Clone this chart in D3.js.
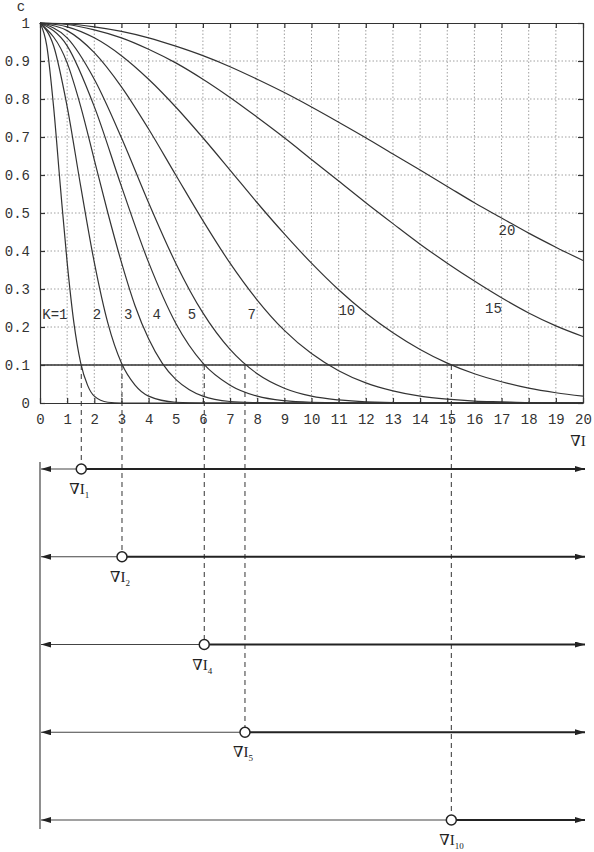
<!DOCTYPE html>
<html>
<head>
<meta charset="utf-8">
<script src="https://cdn.jsdelivr.net/npm/d3@7"></script>
<style>
  body { margin: 0; background: #fff; }
  svg { display: block; }
  .tick-lab { font-family: "Liberation Mono", "DejaVu Sans Mono", monospace; font-size: 14px; fill: #333; }
  .serif { font-family: "Liberation Serif", "DejaVu Serif", serif; fill: #222; }
</style>
</head>
<body>
<svg id="chart" width="594" height="852"></svg>
<script>
// curves c(∇I) for each K as [∇I, c]
const curveK1 = [[0,1],[0.25,0.94],[0.5,0.78],[0.75,0.57],[1,0.37],[1.25,0.21],[1.5,0.105],[1.75,0.047],[2,0.018],[2.5,0.002],[3,0],[20,0]];
const curveK2 = [[0,1],[0.5,0.94],[1,0.78],[1.5,0.57],[2,0.37],[2.5,0.21],[3,0.105],[3.5,0.047],[4,0.018],[5,0.002],[6,0],[20,0]];
const curveK3 = [[0,1],[1,0.895],[1.5,0.78],[2,0.64],[2.5,0.50],[3,0.37],[3.5,0.256],[4,0.169],[4.5,0.105],[5,0.062],[5.5,0.035],[6,0.018],[7,0.004],[8,0.001],[9,0],[20,0]];
const curveK4 = [[0,1],[1,0.94],[2,0.78],[3,0.57],[4,0.37],[5,0.21],[6,0.105],[7,0.047],[8,0.018],[9,0.006],[10,0.002],[12,0],[20,0]];
const curveK5 = [[0,1],[1,0.961],[2,0.852],[3,0.698],[4,0.527],[5,0.368],[6,0.237],[7,0.141],[8,0.077],[9,0.039],[10,0.018],[11,0.008],[12,0.003],[14,0],[20,0]];
const curveK7 = [[0,1],[1,0.98],[2,0.922],[3,0.832],[4,0.721],[5,0.60],[6,0.48],[7,0.368],[8,0.271],[9,0.191],[10,0.13],[11,0.085],[12,0.053],[13,0.032],[14,0.018],[15,0.01],[16,0.005],[17,0.003],[18,0.001],[20,0]];
const curveK10 = [[0,1],[1,0.99],[2,0.961],[3,0.914],[4,0.852],[5,0.779],[6,0.698],[7,0.613],[8,0.527],[9,0.445],[10,0.368],[11,0.298],[12,0.237],[13,0.185],[14,0.141],[15,0.105],[16,0.077],[17,0.056],[18,0.039],[19,0.027],[20,0.018]];
const curveK15 = [[0,1],[1,0.996],[2,0.982],[3,0.961],[4,0.931],[5,0.895],[6,0.852],[7,0.804],[8,0.752],[9,0.698],[10,0.641],[11,0.584],[12,0.527],[13,0.472],[14,0.418],[15,0.368],[16,0.321],[17,0.277],[18,0.237],[19,0.203],[20,0.175]];
const curveK20 = [[0,1],[1,0.998],[2,0.99],[3,0.978],[4,0.961],[5,0.939],[6,0.914],[7,0.885],[8,0.852],[9,0.817],[10,0.779],[11,0.739],[12,0.698],[13,0.655],[14,0.613],[15,0.57],[16,0.527],[17,0.487],[18,0.447],[19,0.41],[20,0.375]];

// curve labels: text, position in data units
const curveLabels = [["K=1",0.55,0.235],["2",2.1,0.235],["3",3.25,0.235],["4",4.3,0.235],["5",5.6,0.235],["7",7.8,0.235],["10",11.3,0.245],["15",16.7,0.25],["20",17.2,0.455]];

const xTicks = d3.range(0, 21);
const yTicks = [0, 0.1, 0.2, 0.3, 0.4, 0.5, 0.6, 0.7, 0.8, 0.9, 1];
const threshold = 0.1;

// ∇I_K where each curve meets c = 0.1, one row per K in the lower panel
const rowKs = ["1", "2", "4", "5", "10"];
const rowGrad = [1.52, 3.02, 6.05, 7.55, 15.15];

const svg = d3.select("#chart");
const x = d3.scaleLinear().domain([0, 20]).range([40, 583]);
const y = d3.scaleLinear().domain([0, 1]).range([403, 23]);

const g = svg.append("g");

// dotted grid
g.append("g").selectAll("line").data(xTicks.slice(1, -1)).join("line")
  .attr("x1", d => x(d)).attr("x2", d => x(d)).attr("y1", y(1)).attr("y2", y(0))
  .attr("stroke", "#888").attr("stroke-width", 0.8).attr("stroke-dasharray", "1.5,2");
g.append("g").selectAll("line").data(yTicks.slice(1, -1)).join("line")
  .attr("x1", x(0)).attr("x2", x(20)).attr("y1", d => y(d)).attr("y2", d => y(d))
  .attr("stroke", "#888").attr("stroke-width", 0.8).attr("stroke-dasharray", "1.5,2");

// frame and inward ticks via axes
const tickLen = 5;
g.append("g").attr("transform", `translate(0,${y(0)})`)
  .call(d3.axisBottom(x).tickValues(xTicks).tickSizeInner(-tickLen).tickSizeOuter(0).tickPadding(11))
  .call(a => a.selectAll("text").attr("class", "tick-lab").attr("fill", null));
g.append("g").attr("transform", `translate(0,${y(1)})`)
  .call(d3.axisTop(x).tickValues(xTicks).tickSizeInner(-tickLen).tickSizeOuter(0).tickFormat(""));
g.append("g").attr("transform", `translate(${x(0)},0)`)
  .call(d3.axisLeft(y).tickValues(yTicks).tickSizeInner(-tickLen).tickSizeOuter(0).tickPadding(10)
    .tickFormat(d => d === 0 ? "0" : d === 1 ? "1" : d3.format(".1f")(d)))
  .call(a => a.selectAll("text").attr("class", "tick-lab").attr("fill", null));
g.append("g").attr("transform", `translate(${x(20)},0)`)
  .call(d3.axisRight(y).tickValues(yTicks).tickSizeInner(-tickLen).tickSizeOuter(0).tickFormat(""));
g.selectAll(".domain").attr("stroke", "#333").attr("stroke-width", 1.2);
g.selectAll(".tick line").attr("stroke", "#333").attr("stroke-width", 1.2);
g.selectAll(".tick text").attr("font-size", null).attr("font-family", null);

// c = 0.1 line
g.append("line").attr("x1", x(0)).attr("x2", x(20)).attr("y1", y(threshold)).attr("y2", y(threshold))
  .attr("stroke", "#333").attr("stroke-width", 1.6);

// curves
const curves = [curveK1, curveK2, curveK3, curveK4, curveK5, curveK7, curveK10, curveK15, curveK20];
const line = d3.line().x(d => x(d[0])).y(d => y(d[1])).curve(d3.curveMonotoneX);
g.append("g").selectAll("path").data(curves).join("path")
  .attr("d", line).attr("fill", "none").attr("stroke", "#333").attr("stroke-width", 1.2);

g.append("g").selectAll("text").data(curveLabels).join("text")
  .attr("class", "tick-lab").attr("x", d => x(d[1])).attr("y", d => y(d[2]))
  .attr("text-anchor", "middle").attr("dy", "0.35em").text(d => d[0]);

// axis titles
svg.append("text").attr("class", "tick-lab").attr("font-size", 13).attr("x", 21).attr("y", 11)
  .attr("text-anchor", "middle").text("c");
svg.append("text").attr("class", "serif").attr("x", 578).attr("y", 446).attr("text-anchor", "middle")
  .attr("font-size", 15).text("∇I");

// lower panel
const rowY = d3.scalePoint().domain(rowKs).range([469, 820]);
const defs = svg.append("defs");
["arrowL", "arrowR"].forEach((id, i) => {
  defs.append("marker").attr("id", id).attr("viewBox", "0 0 10 6").attr("refX", i ? 10 : 0).attr("refY", 3)
    .attr("markerWidth", 10).attr("markerHeight", 6).attr("markerUnits", "userSpaceOnUse").attr("orient", "auto")
    .append("path").attr("d", i ? "M0,0 L10,3 L0,6 Z" : "M10,0 L0,3 L10,6 Z").attr("fill", "#222");
});

const low = svg.append("g");
low.append("line").attr("x1", x(0)).attr("x2", x(0)).attr("y1", 462).attr("y2", 829)
  .attr("stroke", "#444").attr("stroke-width", 1.2);

// dashed drops from c = 0.1 down to each row
low.selectAll(".drop").data(rowKs).join("line").attr("class", "drop")
  .attr("x1", (d, i) => x(rowGrad[i])).attr("x2", (d, i) => x(rowGrad[i]))
  .attr("y1", y(threshold)).attr("y2", d => rowY(d) - 5)
  .attr("stroke", "#333").attr("stroke-width", 1).attr("stroke-dasharray", "5,4");

const rows = low.selectAll(".row").data(rowKs).join("g").attr("class", "row");
rows.append("line").attr("x1", x(0) + 1).attr("x2", (d, i) => x(rowGrad[i]) - 5)
  .attr("y1", d => rowY(d)).attr("y2", d => rowY(d))
  .attr("stroke", "#444").attr("stroke-width", 1.1).attr("marker-start", "url(#arrowL)");
rows.append("line").attr("x1", (d, i) => x(rowGrad[i]) + 5).attr("x2", 585)
  .attr("y1", d => rowY(d)).attr("y2", d => rowY(d))
  .attr("stroke", "#222").attr("stroke-width", 2).attr("marker-end", "url(#arrowR)");
rows.append("circle").attr("cx", (d, i) => x(rowGrad[i])).attr("cy", d => rowY(d)).attr("r", 5)
  .attr("fill", "#fff").attr("stroke", "#222").attr("stroke-width", 1.5);
const lab = rows.append("text").attr("class", "serif").attr("font-size", 15)
  .attr("x", (d, i) => x(rowGrad[i]) - 12).attr("y", d => rowY(d) + 25);
lab.append("tspan").text("∇I");
lab.append("tspan").attr("font-size", 9).attr("dy", 4).text(d => d);
</script>
</body>
</html>
